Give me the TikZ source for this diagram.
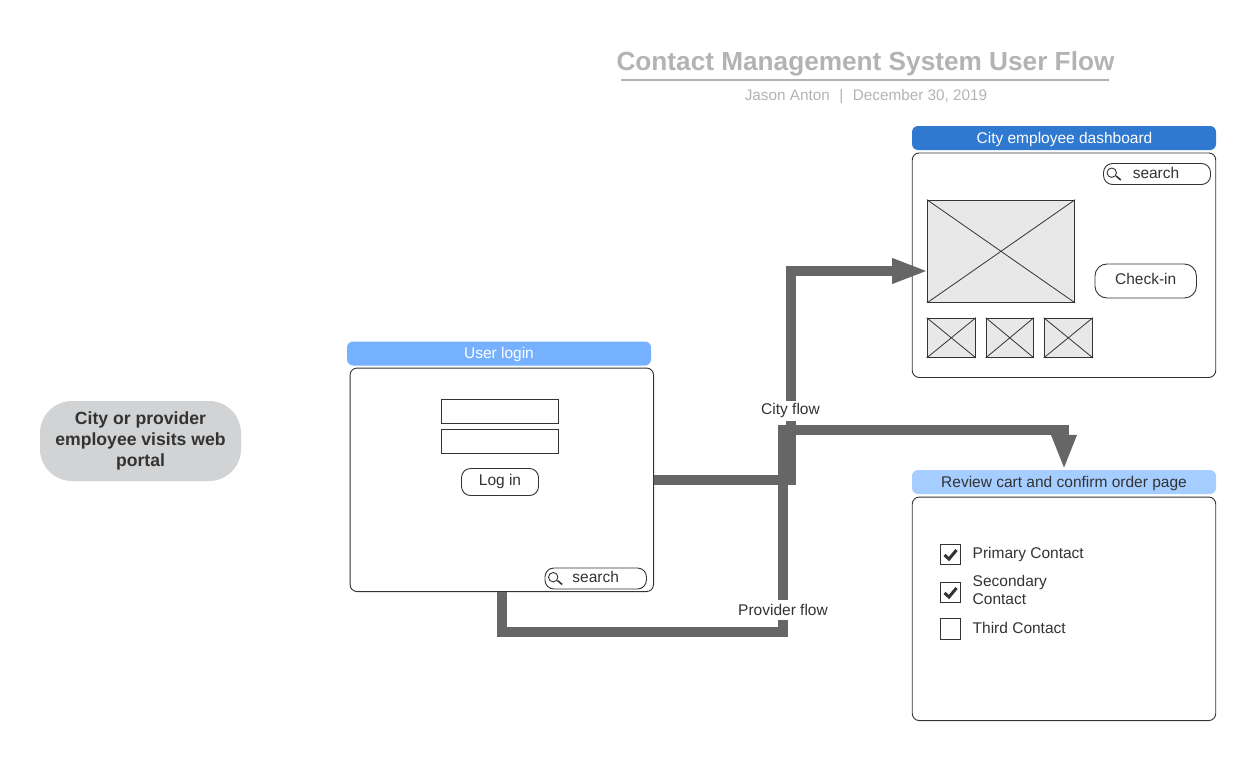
\documentclass[tikz,border=0pt]{standalone}
\usepackage{fontspec}
\setmainfont{Liberation Sans}
\usetikzlibrary{arrows.meta}
\definecolor{flowgray}{HTML}{666666}
\definecolor{ink}{HTML}{333333}
\definecolor{wire}{HTML}{E8E8E8}
\definecolor{hdrA}{HTML}{76B1FF}
\definecolor{hdrB}{HTML}{3079D0}
\definecolor{hdrC}{HTML}{A6CDFF}
\definecolor{pill}{HTML}{D1D3D5}
\definecolor{titlegray}{HTML}{B3B3B3}
\newcommand{\fs}[1]{\fontsize{#1}{#1}\selectfont}
\newcommand{\cen}[2]{\smash{\raisebox{#1}{#2}}}
\tikzset{
 panelbox/.style={draw=ink,line width=0.9pt,rounded corners=7pt,fill=white,minimum width=303.5pt,minimum height=223.5pt,inner sep=0pt},
 hdr/.style={fill=#1,rounded corners=6pt,minimum width=304pt,minimum height=24pt,inner sep=0pt,text=white,font=\fs{15.5}},
 txt/.style={text=ink,font=\fs{15.5},inner sep=0pt,align=left},
 btn/.style={draw=ink,line width=0.9pt,rounded corners=9pt,inner sep=0pt,text=ink,font=\fs{15.5},fill=white},
 field/.style={draw=ink,line width=0.9pt,minimum width=117.5pt,minimum height=24pt,inner sep=0pt,fill=white},
 flow/.style={draw=flowgray,line width=10pt},
 flowlab/.style={fill=white,text=ink,font=\fs{15.5},inner sep=2pt,minimum height=20pt},
 searchbox/.style={btn,minimum width=101.5pt,minimum height=21pt},
 checkbox/.style={draw=ink,line width=1pt,minimum size=20.5pt,inner sep=0pt,fill=white},
 wirebox/.style={draw=ink,line width=0.8pt,fill=wire,inner sep=0pt},
 tickmark/.style={draw=ink,line width=3pt},
 lens/.style={draw=ink,line width=0.9pt},
 handle/.style={draw=ink,line width=1.6pt},
}
\begin{document}
\begin{tikzpicture}[x=1pt,y=-1pt]
\useasboundingbox (0,0) rectangle (1260,760);
% title
\node[font=\fs{26.2}\bfseries,text=titlegray] (title) at (865.5,64) {Contact Management System User Flow};
\coordinate (ruleL) at (621,79.8);
\coordinate (ruleR) at (1109,79.8);
\draw[draw=titlegray,line width=2pt] (ruleL) -- (ruleR);
\node[font=\fs{15.3},text=titlegray] (sub) at (866,97) {Jason Anton\hspace{9.5pt}|\hspace{9.5pt}December 30, 2019};
% start
\node[fill=pill,rounded corners=32pt,minimum width=201pt,minimum height=80pt,inner sep=0pt,align=center,text=ink,font=\fs{17.6}\bfseries] (start) at (140.5,441) {City or provider\\[3.4pt]employee visits web\\[3.4pt]portal};
% panels
\node[panelbox] (login) at (501.8,479.8) {};
\node[hdr=hdrA] (loginH) at (499,353.5) {\cen{-5pt}{User login}};
\node[panelbox,minimum height=224.5pt] (dash) at (1064,265.2) {};
\node[hdr=hdrB] (dashH) at (1064,138) {\cen{-5pt}{\hspace*{1pt}City employee dashboard}};
\node[panelbox] (review) at (1064,608.8) {};
\node[hdr=hdrC,text=ink] (reviewH) at (1064,482) {\cen{-5pt}{Review cart and confirm order page}};
% connector coordinates
\coordinate (cityTurnA) at (790.7,479.5);
\coordinate (cityTurnB) at (790.7,271);
\coordinate (cityEnd) at (928.5,271);
\coordinate (loginOut) at (654,479.5);
\coordinate (loginDown) at (502,592);
\coordinate (provA) at (502,632);
\coordinate (provB) at (783,632);
\coordinate (provC) at (783,430);
\coordinate (provD) at (1064,430);
% connectors
\draw[flow,-{Triangle[length=36.5pt,width=23pt]}] (loginOut) -- (cityTurnA) -- (cityTurnB) -- (cityEnd);
\draw[flow,-{Triangle[length=35pt,width=23pt]}] (loginDown) -- (provA) -- (provB) -- (provC) -- (provD) -- (reviewH.north);
\node[flowlab] (cityL) at (790.5,410.5) {City flow};
\node[flowlab] (provL) at (783,610) {Provider flow};
% login content
\node[field] (user) at (500,411.7) {};
\node[field] (pass) at (500,441.5) {};
\node[btn,minimum width=77pt,minimum height=27pt] (logbtn) at (500,482) {\cen{-3pt}{Log in}};
\node[searchbox] (s1) at (595.7,578.5) {\cen{-4pt}{\hspace*{0pt}search}};
\draw[lens] ([xshift=8.7pt,yshift=1.3pt]s1.west) circle (4.7pt);
\draw[handle] ([shift={(13pt,-2pt)}]s1.west) -- ([shift={(17.7pt,-6pt)}]s1.west);
% dashboard content
\node[searchbox,minimum width=107pt] (s2) at (1157,174) {\cen{-4pt}{\hspace*{-2pt}search}};
\draw[lens] ([xshift=8.7pt,yshift=1.3pt]s2.west) circle (4.7pt);
\draw[handle] ([shift={(13pt,-2pt)}]s2.west) -- ([shift={(17.7pt,-6pt)}]s2.west);
\node[btn,minimum width=101.5pt,minimum height=34pt,rounded corners=12pt] (checkin) at (1145.7,281) {\cen{-3pt}{Check-in}};
\node[wirebox,minimum width=147.5pt,minimum height=102.5pt] (big) at (1001,251.3) {};
\draw[line width=0.8pt,draw=ink] (big.north west) -- (big.south east) (big.north east) -- (big.south west);
\node[wirebox,minimum width=48.5pt,minimum height=39.5pt] (t1) at (951.3,337.8) {};
\node[wirebox,minimum width=47.5pt,minimum height=39.5pt] (t2) at (1009.8,337.8) {};
\node[wirebox,minimum width=48.5pt,minimum height=39.5pt] (t3) at (1068.3,337.8) {};
\foreach \n in {t1,t2,t3}{
 \draw[line width=0.8pt,draw=ink] (\n.north west) -- (\n.south east) (\n.north east) -- (\n.south west);
}
% review content
\node[checkbox] (c1) at (950.5,554.5) {};
\node[checkbox] (c2) at (950.5,592.5) {};
\node[checkbox] (c3) at (950.5,629) {};
\foreach \n in {c1,c2}{
 \draw[tickmark] ([shift={(-6pt,-0.5pt)}]\n.center) -- ([shift={(-1.5pt,-4.5pt)}]\n.center) -- ([shift={(6pt,4.5pt)}]\n.center);
}
\node[txt,anchor=west] (l1) at (972.5,554) {Primary Contact};
\node[txt,anchor=west] (l2) at (972.5,590) {Secondary\\[3pt]Contact};
\node[txt,anchor=west] (l3) at (972.5,628) {Third Contact};
\end{tikzpicture}
\end{document}
